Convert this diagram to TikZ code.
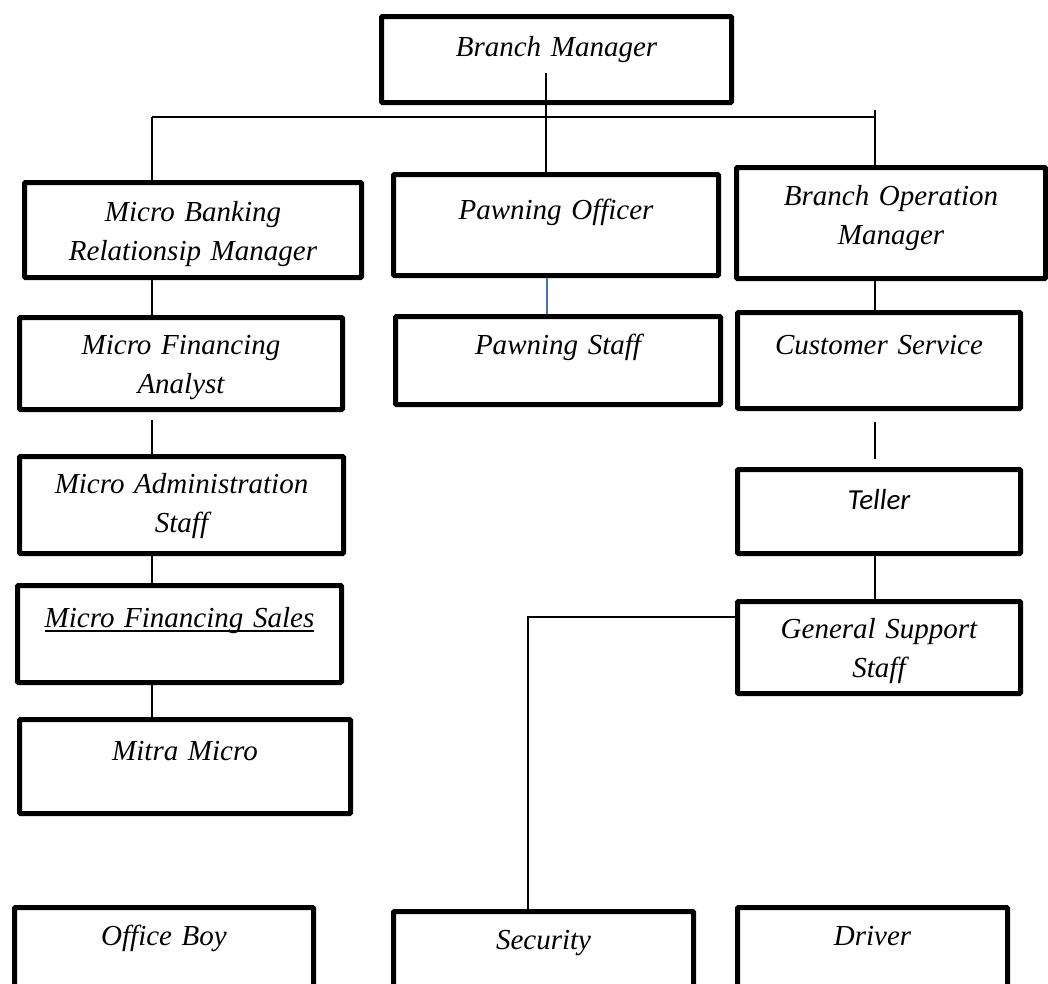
\documentclass[tikz,border=0pt]{standalone}
\usepackage{fontspec}
\setmainfont{Liberation Serif}
\newfontfamily\calibrifont{Carlito}
\usetikzlibrary{positioning, calc}
\definecolor{pawnblue}{RGB}{68,114,196}
\newcommand{\wordunderline}[1]{\setbox0=\hbox{#1}\leavevmode\rlap{\rule[-4.5pt]{\wd0}{1.6pt}}\box0}

\begin{document}
\begin{tikzpicture}[
  x=1pt, y=-1pt,
  font=\fontsize{29}{39}\selectfont\itshape,
  post/.style={
    draw,
    line width=5pt,
    rounded corners=1pt,
    inner sep=0pt,
    anchor=north west,
    align=center,
  },
  link/.style={line width=1.3pt},
]
\useasboundingbox (0,0) rectangle (1048,983);

% --- top ---
\node[post, text width=350pt, text height=40pt, text depth=46pt] (bm) at (379,14) {Branch Manager};

% --- second row ---
\node[post, text width=337pt, text height=39pt, text depth=56pt] (mbrm) at (22,180) {Micro Banking\\ Relationsip Manager};
\node[post, text width=325pt, text height=45pt, text depth=56pt] (po) at (391,172) {Pawning Officer};
\node[post, text width=309pt, text height=38pt, text depth=73pt] (bom) at (734,165) {Branch Operation\\ Manager};

% --- left column ---
\node[post, text width=323pt, text height=37pt, text depth=55pt] (mfa) at (17,315) {Micro Financing\\ Analyst};
\node[post, text width=324pt, text height=37pt, text depth=60pt] (mas) at (17,454) {Micro Administration\\ Staff};
\node[post, text width=324pt, text height=42pt, text depth=55pt] (mfs) at (15,583) {\wordunderline{Micro Financing Sales}};
\node[post, text width=331pt, text height=41pt, text depth=53pt] (mitra) at (17,717) {Mitra Micro};

% --- middle column ---
\node[post, text width=325pt, text height=38pt, text depth=50pt] (ps) at (393,314) {Pawning Staff};

% --- right column ---
\node[post, text width=283pt, text height=42pt, text depth=54pt] (cs) at (735,310) {Customer Service};
\node[post, text width=283pt, text height=40pt, text depth=44pt, font=\fontsize{29}{39}\calibrifont\itshape] (teller) at (735,467) {Teller};
\node[post, text width=283pt, text height=37pt, text depth=55pt] (gss) at (735,599) {General Support\\ Staff};

% --- bottom row (runs off the page) ---
\node[post, text width=299pt, text height=38pt, text depth=67pt] (boy) at (12,905) {Office Boy};
\node[post, text width=300pt, text height=38pt, text depth=63pt] (sec) at (391,909) {Security};
\node[post, text width=270pt, text height=38pt, text depth=67pt] (driver) at (735,905) {Driver};

% bus under the Branch Manager
\coordinate (busL) at (152,117);
\coordinate (busR) at (875,117);
\coordinate (busTop) at (875,110);
\coordinate (spine) at (546,73);
\draw[link] (busL) -- (busR);
\draw[link] (busL) -- (busL |- mbrm.north);
\draw[link] (busTop) -- (busTop |- bom.north);
\draw[link] (spine) -- (spine |- po.north);

% left chain
\draw[link] (mbrm.south -| busL) -- (mfa.north -| busL);
\draw[link] ([yshift=-8pt]mfa.south -| busL) -- (mas.north -| busL);
\draw[link] (mas.south -| busL) -- (mfs.north -| busL);
\draw[link] ([yshift=3pt]mfs.south -| busL) -- (mitra.north -| busL);

% pawning (blue line)
\coordinate (pawnX) at (547,0);
\draw[link, pawnblue] (po.south -| pawnX) -- (ps.north -| pawnX);

% right chain
\draw[link] (bom.south -| busR) -- (cs.north -| busR);
\draw[link] ([yshift=-11pt]cs.south -| busR) -- ([yshift=8pt]teller.north -| busR);
\draw[link] (teller.south -| busR) -- (gss.north -| busR);

% General Support Staff down to Security
\coordinate (secTurn) at (528,617);
\draw[link] (gss.west |- secTurn) -- (secTurn) -- (secTurn |- sec.north);
\end{tikzpicture}
\end{document}
